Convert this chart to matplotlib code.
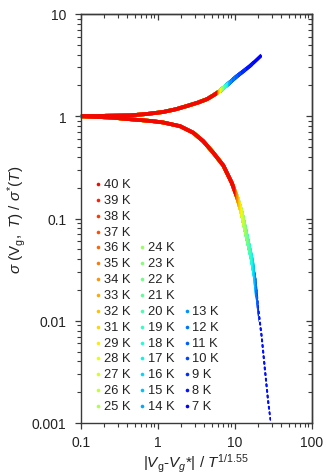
import numpy as np
import matplotlib
matplotlib.use('Agg')
import matplotlib.pyplot as plt
from matplotlib.patches import Rectangle
from matplotlib.ticker import LogLocator, NullFormatter, FuncFormatter

# ---------------- data ----------------
temps_K = [40, 39, 38, 37, 36, 35, 34, 33, 32, 31, 29, 28, 27, 26, 25,
           24, 23, 22, 21, 20, 19, 18, 17, 16, 15, 14,
           13, 12, 11, 10, 9, 8, 7]
# largest scaled |Vg-Vg*|/T^(1/1.55) reached by each temperature on each branch
upper_end = [5.8, 5.85, 5.9, 5.95, 6.0, 6.05, 6.1, 6.15, 6.2, 6.3, 6.4, 6.5, 6.6, 6.7, 6.8,
             7.0, 7.1, 7.2, 7.3, 7.4, 7.6, 7.8, 8.0, 8.2, 8.4, 8.7,
             9.2, 10.0, 11.0, 12.0, 14.0, 17.0, 22.2]
lower_end = [10.0, 10.1, 10.2, 10.3, 10.4, 10.6, 10.8, 11.0, 11.3, 11.6, 12.0, 12.3, 12.7, 13.0, 13.4,
             13.8, 14.2, 14.6, 15.0, 15.5, 16.0, 16.5, 17.0, 17.5, 18.0, 18.4,
             18.8, 19.2, 19.6, 20.0, 20.6, 28.4, 29.4]
# collapsed (scaled) curves: rising branch and falling branch
upper_x = [0.10, 0.20, 0.43, 0.70, 1.16, 1.70, 2.38, 3.30, 4.33, 5.30, 6.39, 8.20,
           10.5, 12.8, 15.7, 18.8, 22.2]
upper_y = [1.00, 1.01, 1.02, 1.05, 1.10, 1.17, 1.26, 1.36, 1.47, 1.61, 1.77, 2.08,
           2.45, 2.75, 3.11, 3.52, 3.96]
lower_x = [0.10, 0.25, 0.47, 0.80, 1.16, 1.93, 2.87, 3.87, 5.22, 7.05, 9.06, 10.7,
           12.2, 14.2, 16.5, 18.2, 19.6, 22.2, 24.5, 27.1, 29.4]
lower_y = [1.00, 0.97, 0.93, 0.90, 0.87, 0.80, 0.69, 0.57, 0.44, 0.33, 0.224, 0.16,
           0.114, 0.067, 0.040, 0.026, 0.0149, 0.0070, 0.0033, 0.00156, 0.0010]

x_ticks = [0.1, 1, 10, 100]
y_ticks = [0.001, 0.01, 0.1, 1, 10]

# ---------------- style ----------------
plt.rcParams['font.family'] = ['Liberation Sans', 'DejaVu Sans']
plt.rcParams['mathtext.fontset'] = 'custom'
plt.rcParams['mathtext.rm'] = 'Liberation Sans'
plt.rcParams['mathtext.it'] = 'Liberation Sans:italic'
plt.rcParams['mathtext.bf'] = 'Liberation Sans:bold'

W, H = 326, 477
fig = plt.figure(figsize=(W / 100, H / 100), dpi=100)
L, R, T_, B = 81, 312, 15, 424
ax = fig.add_axes([L / W, 1 - B / H, (R - L) / W, (B - T_) / H])
ax.set_xscale('log')
ax.set_yscale('log')
ax.set_xlim(0.1, 100)
ax.set_ylim(0.001, 10)

cmap = plt.get_cmap('jet')
n = len(temps_K)
order = sorted(range(n), key=lambda i: temps_K[i])  # low T drawn first
rank = {i: r for r, i in enumerate(order)}

def color_for(i):
    return cmap(0.12 + 0.78 * rank[i] / (n - 1))

for i in order:
    c = color_for(i)
    Tk = temps_K[i]
    lw = 2.6
    lu, = ax.plot(upper_x, upper_y, '-', color=c, lw=lw, solid_capstyle='butt', zorder=2)
    clip_u = Rectangle((0.05, 1e-4), upper_end[i] - 0.05, 1e3, transform=ax.transData)
    lu.set_clip_path(clip_u)
    if Tk <= 8:
        ll, = ax.plot(lower_x, lower_y, color=c, lw=1.4,
                      linestyle=(0, (1.0, 1.9)), dash_capstyle='round', zorder=2)
    elif Tk <= 13:
        ll, = ax.plot(lower_x, lower_y, color=c, lw=1.8,
                      linestyle=(0.9 * rank[i], (1.0, 1.3)),
                      dash_capstyle='round', zorder=2)
    else:
        ll, = ax.plot(lower_x, lower_y, '-', color=c, lw=lw, solid_capstyle='butt', zorder=2)
    clip_l = Rectangle((0.05, 1e-4), lower_end[i] - 0.05, 1e3, transform=ax.transData)
    ll.set_clip_path(clip_l)

# ---------------- axes & ticks ----------------
spine_c = '#3a3a3a'
for s in ax.spines.values():
    s.set_color(spine_c)
    s.set_linewidth(1.0)

fmt = FuncFormatter(lambda v, p: '{:g}'.format(v))
ax.xaxis.set_minor_locator(LogLocator(base=10, subs=np.arange(2, 10), numticks=20))
ax.yaxis.set_minor_locator(LogLocator(base=10, subs=np.arange(2, 10), numticks=20))
ax.set_xticks(x_ticks)
ax.set_yticks(y_ticks)
ax.xaxis.set_major_formatter(fmt)
ax.yaxis.set_major_formatter(fmt)
ax.xaxis.set_minor_formatter(NullFormatter())
ax.yaxis.set_minor_formatter(NullFormatter())
ax.tick_params(which='major', direction='out', length=4.5, width=0.9, color=spine_c,
               labelsize=10, labelcolor='#222222')
ax.tick_params(which='minor', direction='out', length=3.0, width=0.8, color=spine_c)
ax.tick_params(axis='y', which='major', pad=6)
ax.tick_params(axis='x', which='major', pad=4)

secx = ax.secondary_xaxis('top')
secy = ax.secondary_yaxis('right')
secx.set_xticks(x_ticks)
secy.set_yticks(y_ticks)
for sa, axis in ((secx, secx.xaxis), (secy, secy.yaxis)):
    axis.set_minor_locator(LogLocator(base=10, subs=np.arange(2, 10), numticks=20))
    axis.set_major_formatter(NullFormatter())
    axis.set_minor_formatter(NullFormatter())
    sa.tick_params(which='major', direction='in', length=4.5, width=0.9, color=spine_c)
    sa.tick_params(which='minor', direction='in', length=3.0, width=0.8, color=spine_c)
    for s in sa.spines.values():
        s.set_color(spine_c)
        s.set_linewidth(1.0)

ax.set_ylabel(r'$\sigma\ (\mathrm{V}_{\mathrm{g}},\ T)\ /\ \sigma^{*}(T)$', fontsize=11,
              color='#222222', labelpad=3)
ax.set_xlabel(r'$|V_{\mathrm{g}}$-$V_{g}$*$|\ /\ T^{\mathrm{1/1.55}}$', fontsize=11,
              color='#222222', labelpad=2)

# ---------------- legend (three columns) ----------------
col_start_row = [0, 4, 8]
col_members = [temps_K[0:15], temps_K[15:26], temps_K[26:33]]
marker_px = [98, 142, 187]
text_px = [104, 147.5, 192]
row0_py, row_step = 185.0, 15.86
for c in range(3):
    for k, Tk in enumerate(col_members[c]):
        i = temps_K.index(Tk)
        py = row0_py + row_step * (col_start_row[c] + k)
        ay = (B - py) / (B - T_)
        ax.plot([(marker_px[c] - L) / (R - L)], [ay], 'o', ms=2.6, mew=0,
                color=color_for(i), transform=ax.transAxes, zorder=4, clip_on=False)
        ax.text((text_px[c] - L) / (R - L), ay, f'{Tk} K', transform=ax.transAxes,
                fontsize=9.3, color='#222222', va='center', ha='left', zorder=4)

fig.savefig('out.png', dpi=100)
